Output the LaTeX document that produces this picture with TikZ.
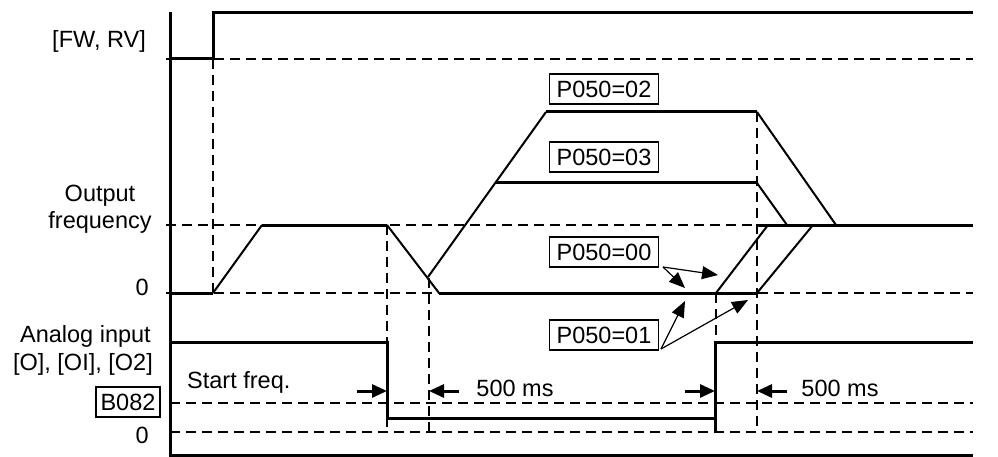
\documentclass[tikz,border=0pt]{standalone}
\usepackage{fontspec}
\setmainfont{Liberation Sans}
\usetikzlibrary{arrows.meta}
\begin{document}
\begin{tikzpicture}[x=1pt,y=-1pt,
 sig/.style={line width=3pt, line join=miter},
 ramp/.style={line width=2pt},
 dsh/.style={line width=2pt, dash pattern=on 10pt off 6pt},
 lbl/.style={inner sep=0pt, font=\fontsize{23.5}{28}\selectfont},
 pbox/.style={draw, line width=1.5pt, inner sep=0pt, minimum width=109pt, minimum height=30pt, font=\fontsize{23.5}{28}\selectfont},
 dimarrow/.style={line width=3pt, -{Triangle[length=15pt,width=13pt]}},
 parrow/.style={line width=1.2pt, -{Triangle[length=16pt,width=13pt]}}]
\fill[white] (0,0) rectangle (998,457);
\useasboundingbox (0,0) rectangle (998,457);
% dashed guide lines
\draw[dsh] (166,59) -- (973,59);
\draw[dsh] (166,225) -- (973,225);
\draw[dsh] (166,293) -- (973,293);
\draw[dsh] (170,403) -- (973,403);
\draw[dsh] (170,432) -- (973,432);
\draw[dsh] (213,59) -- (213,293);
\draw[dsh] (387,225) -- (387,432);
\draw[dsh] (429,278) -- (429,432);
\draw[dsh] (716,293) -- (716,432);
\draw[dsh] (757,112) -- (757,432);
% axes
\draw[sig] (170,12) -- (170,455) -- (973,455);
% FW/RV
\draw[sig] (170,59) -- (213,59) -- (213,13) -- (973,13);
% output frequency
\draw[sig] (170,293) -- (213,293);
\draw[ramp] (213,293) -- (262,225);
\draw[sig] (262,225) -- (387,225);
\draw[ramp] (387,225) -- (439,293);
\draw[sig] (439,293) -- (757,293);
\draw[ramp] (428,277) -- (546,112);
\draw[sig] (546,112) -- (757,112);
\draw[ramp] (757,112) -- (836,225);
\draw[sig] (495,183) -- (757,183);
\draw[ramp] (757,183) -- (787,225);
\draw[ramp] (716,293) -- (768,225);
\draw[ramp] (757,293) -- (813,225);
\draw[sig] (757,225) -- (973,225);
% analog input
\draw[sig] (170,342) -- (387,342) -- (387,418) -- (715,418);
\draw[sig] (715,432) -- (715,342) -- (973,342);
% labels
\node[lbl, anchor=base east] (fw) at (146,48) {[FW, RV]};
\node[lbl, anchor=base] (of1) at (100,201) {Output};
\node[lbl, anchor=base] (of2) at (100,228) {frequency};
\node[lbl, anchor=base east] (z1) at (149,295) {0};
\node[lbl, anchor=base east] (ai1) at (151,342) {Analog input};
\node[lbl, anchor=base east] (ai2) at (153,370) {[O], [OI], [O2]};
\node[pbox, minimum width=64pt] (b082) at (128,402) {B082};
\node[lbl, anchor=base east] (z2) at (149,443) {0};
\node[lbl, anchor=base west] (sf) at (187,388) {Start freq.};
\node[lbl] (ms1) at (515,388) {500 ms};
\node[lbl] (ms2) at (840,388) {500 ms};
\node[pbox] (p02) at (604,89) {P050=02};
\node[pbox] (p03) at (604,157) {P050=03};
\node[pbox] (p00) at (604,252) {P050=00};
\node[pbox] (p01) at (604,335) {P050=01};
% dimension arrows
\coordinate (a1s) at (357,391); \coordinate (a1e) at (387,391);
\coordinate (a2s) at (459,391); \coordinate (a2e) at (429,391);
\coordinate (a3s) at (685,391); \coordinate (a3e) at (715,391);
\coordinate (a4s) at (787,391); \coordinate (a4e) at (757,391);
\draw[dimarrow] (a1s) -- (a1e);
\draw[dimarrow] (a2s) -- (a2e);
\draw[dimarrow] (a3s) -- (a3e);
\draw[dimarrow] (a4s) -- (a4e);
% P050 pointer arrows
\coordinate (s00) at (663,267);
\coordinate (t1) at (685,288);
\coordinate (t2) at (718,275);
\coordinate (s01) at (661,349);
\coordinate (t3) at (685,301);
\coordinate (t4) at (748,300);
\draw[parrow] (s00) -- (t1);
\draw[parrow] (s00) -- (t2);
\draw[parrow] (s01) -- (t3);
\draw[parrow] (s01) -- (t4);
\end{tikzpicture}
\end{document}
